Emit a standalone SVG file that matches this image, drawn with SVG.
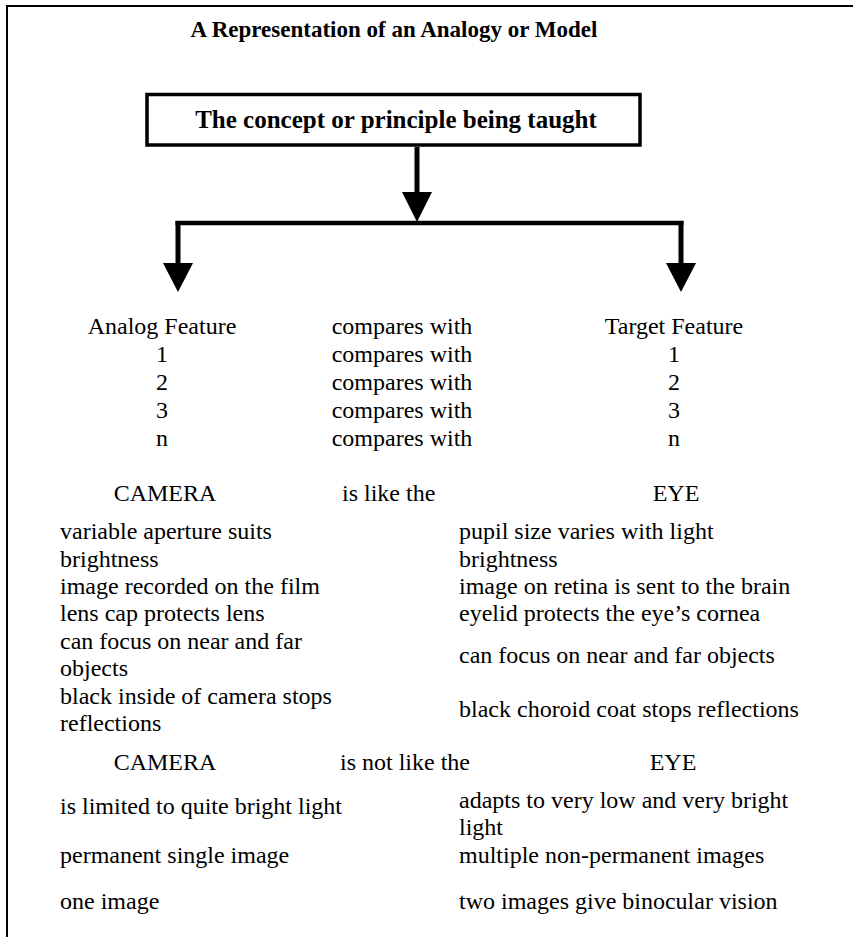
<svg xmlns="http://www.w3.org/2000/svg" width="853" height="937" viewBox="0 0 853 937">
<style>
text{font-family:"Liberation Serif","Times New Roman",serif;fill:#000}
.t{font-size:24px}
.b{font-weight:bold}
.m{text-anchor:middle}
.ln{stroke:#000;fill:none}
.hd{fill:#000;stroke:none}
</style>
<rect width="853" height="937" fill="#fff"/>
<g id="frame">
<path class="ln" stroke-width="2" d="M7,937 V6 H853"/>
</g>
<g id="title"><text class="b m" x="394" y="37" font-size="23">A Representation of an Analogy or Model</text></g>
<g id="concept">
<rect x="147" y="94.5" width="493" height="50.5" fill="#fff" stroke="#000" stroke-width="3.5"/>
<text class="b m" x="396" y="128" font-size="25">The concept or principle being taught</text>
</g>
<g id="connectors">
<path class="ln" stroke-width="5" d="M417,147 V194"/>
<path class="hd" d="M402,192 H432 L417,222 Z"/>
<path class="ln" stroke-width="4.5" d="M175.5,223 H683.5"/>
<path class="ln" stroke-width="5" d="M178,221 V265"/>
<path class="hd" d="M163,263 H193 L178,292 Z"/>
<path class="ln" stroke-width="5" d="M681,221 V265"/>
<path class="hd" d="M666,263 H696 L681,292 Z"/>
</g>
<g id="table">
<text class="t m" x="162" y="334">Analog Feature</text>
<text class="t m" x="402" y="334">compares with</text>
<text class="t m" x="674" y="334">Target Feature</text>
<text class="t m" x="162" y="362">1</text>
<text class="t m" x="402" y="362">compares with</text>
<text class="t m" x="674" y="362">1</text>
<text class="t m" x="162" y="390">2</text>
<text class="t m" x="402" y="390">compares with</text>
<text class="t m" x="674" y="390">2</text>
<text class="t m" x="162" y="418">3</text>
<text class="t m" x="402" y="418">compares with</text>
<text class="t m" x="674" y="418">3</text>
<text class="t m" x="162" y="446">n</text>
<text class="t m" x="402" y="446">compares with</text>
<text class="t m" x="674" y="446">n</text>
</g>
<g id="like">
<text class="t m" x="165" y="501">CAMERA</text>
<text class="t" x="342" y="501">is like the</text>
<text class="t m" x="676" y="501">EYE</text>
<text class="t" x="60" y="539">variable aperture suits</text>
<text class="t" x="60" y="567">brightness</text>
<text class="t" x="60" y="594">image recorded on the film</text>
<text class="t" x="60" y="621">lens cap protects lens</text>
<text class="t" x="60" y="649">can focus on near and far</text>
<text class="t" x="60" y="676">objects</text>
<text class="t" x="60" y="704">black inside of camera stops</text>
<text class="t" x="60" y="731">reflections</text>
<text class="t" x="459" y="539">pupil size varies with light</text>
<text class="t" x="459" y="567">brightness</text>
<text class="t" x="459" y="594">image on retina is sent to the brain</text>
<text class="t" x="459" y="621">eyelid protects the eye’s cornea</text>
<text class="t" x="459" y="663">can focus on near and far objects</text>
<text class="t" x="459" y="717">black choroid coat stops reflections</text>
</g>
<g id="notlike">
<text class="t m" x="165" y="770">CAMERA</text>
<text class="t" x="340" y="770">is not like the</text>
<text class="t m" x="673" y="770">EYE</text>
<text class="t" x="60" y="814">is limited to quite bright light</text>
<text class="t" x="60" y="863">permanent single image</text>
<text class="t" x="60" y="909">one image</text>
<text class="t" x="459" y="808">adapts to very low and very bright</text>
<text class="t" x="459" y="835">light</text>
<text class="t" x="459" y="863">multiple non-permanent images</text>
<text class="t" x="459" y="909">two images give binocular vision</text>
</g>
</svg>
